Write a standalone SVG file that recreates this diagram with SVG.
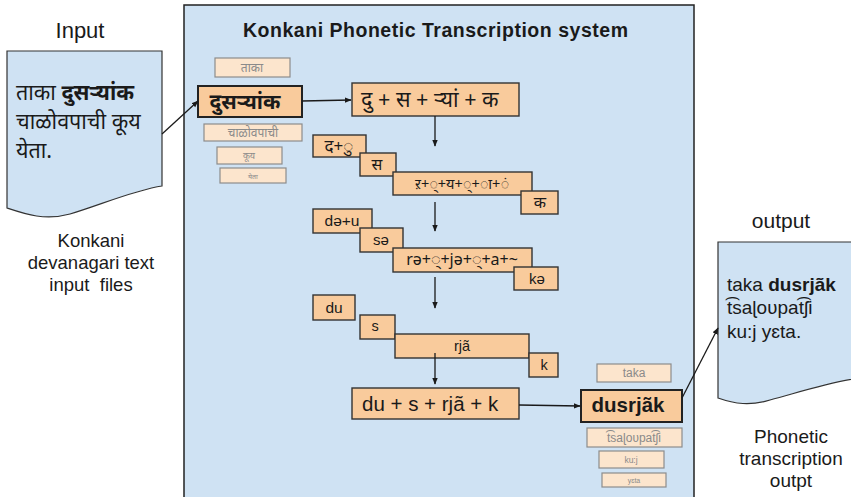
<svg xmlns="http://www.w3.org/2000/svg" width="851" height="497" viewBox="0 0 851 497">
  <defs>
    <marker id="arrow" viewBox="0 0 10 10" refX="9" refY="5" markerWidth="7" markerHeight="7" orient="auto" markerUnits="userSpaceOnUse">
      <path d="M0,1 L10,5 L0,9 Z" fill="#1a1a1a"/>
    </marker>
  </defs>
  <style>
    text { font-family: "Liberation Sans", Arial, "Noto Sans", "Noto Sans Devanagari", sans-serif; fill: #1a1a1a; white-space: pre; }
    .deva { font-family: "Noto Sans", "Noto Sans Devanagari", "Liberation Sans", sans-serif; }
    .panel { fill: #cfe2f3; stroke: #222; stroke-width: 1.5; }
    .doc { fill: #cfe2f3; stroke: #333; stroke-width: 1.2; }
    .step { fill: #f9cb9c; stroke: #333; stroke-width: 1.4; }
    .main { fill: #f9cb9c; stroke: #222; stroke-width: 2; }
    .ghost { fill: #fce5cd; stroke: #8c8c8c; stroke-width: 1.2; }
    .ghost-t { fill: #8a8a8a; }
    .conn { stroke: #1a1a1a; stroke-width: 1.3; fill: none; marker-end: url(#arrow); }
    .c { text-anchor: middle; }
  </style>

  <!-- system panel -->
  <g id="system">
    <rect class="panel" x="184" y="5" width="510" height="495"/>
    <text x="243" y="37" font-size="19.5" font-weight="bold" textLength="385" lengthAdjust="spacing">Konkani Phonetic Transcription system</text>
  </g>

  <!-- input document -->
  <g id="input">
    <text class="c" x="80" y="38" font-size="22">Input</text>
    <path class="doc" d="M7,51 H162 V186 C135,190 100,205 70,214 C45,221 25,214 7,208 Z"/>
    <text class="deva" x="16" y="100" font-size="21.5">ताका <tspan font-weight="bold">दुसऱ्यांक</tspan></text>
    <text class="deva" x="16" y="129" font-size="21.5">चाळोवपाची कूय</text>
    <text class="deva" x="16" y="158" font-size="21.5">येता.</text>
    <text class="c" x="91" y="247" font-size="18.5">Konkani</text>
    <text class="c" x="91" y="269" font-size="18.5">devanagari text</text>
    <text class="c" x="91" y="291" font-size="18.5">input  files</text>
  </g>

  <!-- source words -->
  <g id="src-words">
    <rect class="ghost" x="215" y="58" width="75" height="19"/>
    <text class="deva c ghost-t" x="252" y="72" font-size="12">ताका</text>
    <rect class="main" x="198" y="86" width="104" height="31"/>
    <text class="deva c" x="245" y="109" font-size="21" font-weight="bold">दुसऱ्यांक</text>
    <rect class="ghost" x="204" y="124" width="98" height="17"/>
    <text class="deva c ghost-t" x="253" y="137" font-size="12">चाळोवपाची</text>
    <rect class="ghost" x="217" y="147" width="65" height="17"/>
    <text class="deva c ghost-t" x="249" y="159" font-size="9">कूय</text>
    <rect class="ghost" x="220" y="168" width="66" height="15"/>
    <text class="deva c ghost-t" x="253" y="179" font-size="7">येता</text>
  </g>

  <!-- syllable split -->
  <g id="split">
    <rect class="step" x="352" y="83" width="167" height="33"/>
    <text class="deva" x="361" y="107" font-size="21.5">दु + स + ऱ्यां + क</text>
  </g>

  <!-- character decomposition -->
  <g id="chars">
    <rect class="step" x="313" y="135" width="53" height="22"/>
    <text class="deva c" x="339" y="152" font-size="17">द+ु</text>
    <rect class="step" x="360" y="153" width="36" height="23"/>
    <text class="deva c" x="377" y="170" font-size="16">स</text>
    <rect class="step" x="393" y="172" width="139" height="23"/>
    <text class="deva c" x="462" y="189" font-size="14.5">ऱ+्+य+्+ा+ं</text>
    <rect class="step" x="521" y="191" width="37" height="23"/>
    <text class="deva c" x="540" y="208" font-size="16">क</text>
  </g>

  <!-- phoneme mapping -->
  <g id="phonemes">
    <rect class="step" x="313" y="209" width="59" height="24"/>
    <text class="c" x="342" y="226" font-size="15.5">də+u</text>
    <rect class="step" x="360" y="228" width="43" height="24"/>
    <text class="c" x="381" y="245" font-size="15">sə</text>
    <rect class="step" x="393" y="248" width="139" height="24"/>
    <text class="deva c" x="462" y="265" font-size="16">rə+्+jə+्+a+~</text>
    <rect class="step" x="514" y="267" width="44" height="23"/>
    <text class="c" x="537" y="284" font-size="15">kə</text>
  </g>

  <!-- merged syllables -->
  <g id="syllables">
    <rect class="step" x="313" y="295" width="42" height="25"/>
    <text class="c" x="334" y="313" font-size="15.5">du</text>
    <rect class="step" x="360" y="315" width="35" height="24"/>
    <text class="c" x="375" y="331" font-size="14.5">s</text>
    <rect class="step" x="395" y="334" width="134" height="24"/>
    <text class="c" x="462" y="351" font-size="14.5">rjã</text>
    <rect class="step" x="529" y="353" width="29" height="24"/>
    <text class="c" x="544" y="370" font-size="14.5">k</text>
  </g>

  <!-- joined word -->
  <g id="joined">
    <rect class="step" x="352" y="388" width="167" height="31"/>
    <text x="362" y="411" font-size="20.5">du + s + rjã + k</text>
  </g>

  <!-- target words -->
  <g id="dst-words">
    <rect class="ghost" x="597" y="364" width="74" height="18"/>
    <text class="c ghost-t" x="634" y="377" font-size="12">taka</text>
    <rect class="main" x="581" y="390" width="101" height="32"/>
    <text class="c" x="628" y="412" font-size="20.5" font-weight="bold">dusrjãk</text>
    <rect class="ghost" x="587" y="428" width="95" height="19"/>
    <text class="c ghost-t" x="634" y="442" font-size="12">t͡saɭoʋpat͡ʃi</text>
    <rect class="ghost" x="599" y="451" width="65" height="17"/>
    <text class="c ghost-t" x="631" y="463" font-size="8.5">ku:j</text>
    <rect class="ghost" x="602" y="473" width="64" height="14"/>
    <text class="c ghost-t" x="634" y="483" font-size="7">yɛta</text>
  </g>

  <!-- output document -->
  <g id="output">
    <text class="c" x="781" y="228" font-size="21">output</text>
    <path class="doc" d="M718,242 H860 V378 C830,382 800,392 770,400 C750,406 735,404 718,398 Z"/>
    <text x="727" y="291" font-size="19">taka <tspan font-weight="bold">dusrjãk</tspan></text>
    <text x="727" y="314" font-size="19">t͡saɭoʋpat͡ʃi</text>
    <text x="727" y="338" font-size="19">ku:j yɛta.</text>
    <text class="c" x="791" y="443" font-size="19">Phonetic</text>
    <text class="c" x="791" y="465" font-size="19">transcription</text>
    <text class="c" x="791" y="487" font-size="19">outpt</text>
  </g>

  <!-- connectors -->
  <g id="connectors">
    <line class="conn" x1="162" y1="134" x2="198" y2="101"/>
    <line class="conn" x1="302" y1="101" x2="351" y2="100"/>
    <line class="conn" x1="435" y1="116" x2="435" y2="146"/>
    <line class="conn" x1="435" y1="202" x2="435" y2="231"/>
    <line class="conn" x1="435" y1="277" x2="435" y2="308"/>
    <line class="conn" x1="435" y1="353" x2="435" y2="384"/>
    <line class="conn" x1="519" y1="405" x2="580" y2="406"/>
    <line class="conn" x1="682" y1="398" x2="718" y2="328"/>
  </g>
</svg>
